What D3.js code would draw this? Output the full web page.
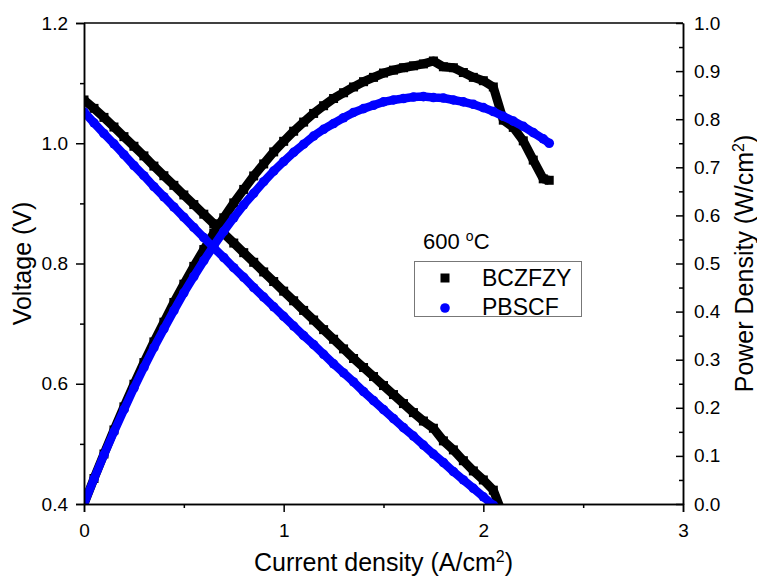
<!DOCTYPE html>
<html>
<head>
<meta charset="utf-8">
<script src="https://cdn.jsdelivr.net/npm/d3@7"></script>
<style>
  html, body { margin: 0; padding: 0; background: #fff; }
  svg { display: block; font-family: "Liberation Sans", Arial, sans-serif; }
</style>
</head>
<body>
<svg id="chart" width="757" height="582"></svg>
<script>
// Current density grid (A/cm2) shared by all four series
const current = [0, 0.05, 0.10, 0.15, 0.20, 0.25, 0.30, 0.35, 0.40, 0.45,
  0.50, 0.55, 0.60, 0.65, 0.70, 0.75, 0.80, 0.85, 0.90, 0.95,
  1.00, 1.05, 1.10, 1.15, 1.20, 1.25, 1.30, 1.35, 1.40, 1.45,
  1.50, 1.55, 1.60, 1.65, 1.70, 1.75, 1.80, 1.85, 1.90, 1.95,
  2.00, 2.05, 2.10, 2.15, 2.20, 2.25, 2.30, 2.33];

// Cell voltage (V)
const voltageBCZFZY = [1.072, 1.058, 1.043, 1.027, 1.011, 0.995, 0.979, 0.962, 0.946, 0.930,
  0.914, 0.898, 0.882, 0.866, 0.850, 0.834, 0.818, 0.802, 0.786, 0.770,
  0.754, 0.738, 0.722, 0.706, 0.690, 0.674, 0.658, 0.642, 0.627, 0.612,
  0.597, 0.582, 0.567, 0.552, 0.538, 0.526, 0.505, 0.490, 0.472, 0.455,
  0.440, 0.423, 0.380, 0.364, 0.343, 0.318, 0.294, 0.289];
const voltagePBSCF = [1.052, 1.034, 1.016, 0.999, 0.981, 0.963, 0.946, 0.928, 0.911, 0.894,
  0.877, 0.860, 0.843, 0.826, 0.810, 0.793, 0.777, 0.760, 0.744, 0.728,
  0.712, 0.696, 0.680, 0.665, 0.649, 0.633, 0.618, 0.603, 0.587, 0.572,
  0.557, 0.542, 0.527, 0.513, 0.498, 0.483, 0.469, 0.454, 0.440, 0.426,
  0.412, 0.398, 0.384, 0.370, 0.357, 0.343, 0.330, 0.322];

// Power density (W/cm2)
const powerBCZFZY = [0, 0.053, 0.104, 0.154, 0.202, 0.249, 0.294, 0.337, 0.378, 0.419,
  0.457, 0.494, 0.529, 0.563, 0.595, 0.626, 0.654, 0.682, 0.707, 0.732,
  0.754, 0.775, 0.794, 0.812, 0.828, 0.843, 0.855, 0.867, 0.878, 0.887,
  0.896, 0.902, 0.907, 0.911, 0.915, 0.921, 0.909, 0.907, 0.897, 0.887,
  0.880, 0.867, 0.798, 0.783, 0.755, 0.715, 0.676, 0.673];
const powerPBSCF = [0, 0.052, 0.102, 0.150, 0.196, 0.241, 0.284, 0.325, 0.364, 0.402,
  0.439, 0.473, 0.506, 0.537, 0.567, 0.595, 0.622, 0.646, 0.670, 0.692,
  0.712, 0.731, 0.748, 0.765, 0.779, 0.791, 0.803, 0.814, 0.822, 0.829,
  0.836, 0.840, 0.843, 0.846, 0.847, 0.845, 0.844, 0.840, 0.836, 0.831,
  0.824, 0.816, 0.806, 0.796, 0.785, 0.772, 0.759, 0.750];

// Axis ticks
const xTicks = [0, 1, 2, 3];
const xMinorTicks = [0.5, 1.5, 2.5];
const vTicks = [0.4, 0.6, 0.8, 1.0, 1.2];
const vMinorTicks = [0.5, 0.7, 0.9, 1.1];
const pTicks = [0, 0.1, 0.2, 0.3, 0.4, 0.5, 0.6, 0.7, 0.8, 0.9, 1.0];
const pMinorTicks = [0.05, 0.15, 0.25, 0.35, 0.45, 0.55, 0.65, 0.75, 0.85, 0.95];

const seriesNames = ["BCZFZY", "PBSCF"];
const seriesColors = ["#000000", "#0000ff"];
const temperatureLabel = "600 ";

const svg = d3.select("#chart");
const plotLeft = 84, plotRight = 683, plotTop = 23, plotBottom = 504;

const x = d3.scaleLinear().domain([0, 3]).range([plotLeft, plotRight]);
const yV = d3.scaleLinear().domain([0.4, 1.2]).range([plotBottom, plotTop]);
const yP = d3.scaleLinear().domain([0, 1.0]).range([plotBottom, plotTop]);

svg.append("defs").append("clipPath").attr("id", "plot-clip")
  .append("rect").attr("x", plotLeft).attr("y", plotTop)
  .attr("width", plotRight - plotLeft).attr("height", plotBottom - plotTop);

const plot = svg.append("g").attr("clip-path", "url(#plot-clip)");

function drawSeries(values, yScale, color, shape) {
  const pts = current.map((c, i) => [c, values[i]]);
  const line = d3.line().x(d => x(d[0])).y(d => yScale(d[1]));
  plot.append("path").datum(pts)
    .attr("d", line).attr("fill", "none").attr("stroke", color)
    .attr("stroke-width", shape === "square" ? 9 : 8.5)
    .attr("stroke-linejoin", "round");
  if (shape === "square") {
    plot.append("g").selectAll("rect").data(pts).join("rect")
      .attr("x", d => x(d[0]) - 4.5).attr("y", d => yScale(d[1]) - 4.5)
      .attr("width", 9).attr("height", 9).attr("fill", color);
  } else {
    plot.append("g").selectAll("circle").data(pts).join("circle")
      .attr("cx", d => x(d[0])).attr("cy", d => yScale(d[1]))
      .attr("r", 4.8).attr("fill", color);
  }
}

drawSeries(voltageBCZFZY, yV, seriesColors[0], "square");
drawSeries(powerBCZFZY, yP, seriesColors[0], "square");
drawSeries(voltagePBSCF, yV, seriesColors[1], "circle");
drawSeries(powerPBSCF, yP, seriesColors[1], "circle");

// Frame
svg.append("line").attr("x1", plotLeft).attr("x2", plotRight).attr("y1", plotTop).attr("y2", plotTop)
  .attr("stroke", "#000").attr("stroke-width", 1.5);

const fmt = d3.format(".1f");
const tickFont = 19;

function styleAxis(g) {
  g.selectAll(".domain").attr("stroke", "#000").attr("stroke-width", 1.5);
  g.selectAll(".tick line").attr("stroke", "#000").attr("stroke-width", 1.5);
  g.selectAll(".tick text").attr("font-size", tickFont)
    .attr("font-family", "'Liberation Sans', Arial, sans-serif").attr("fill", "#000");
}

// Bottom axis
svg.append("g").attr("transform", `translate(0,${plotBottom})`)
  .call(d3.axisBottom(x).tickValues(xTicks).tickFormat(d3.format("d")).tickSize(8).tickPadding(12))
  .call(styleAxis);
svg.append("g").attr("transform", `translate(0,${plotBottom})`)
  .call(d3.axisBottom(x).tickValues(xMinorTicks).tickFormat("").tickSize(4).tickSizeOuter(0))
  .call(styleAxis);

// Left axis
svg.append("g").attr("transform", `translate(${plotLeft},0)`)
  .call(d3.axisLeft(yV).tickValues(vTicks).tickFormat(fmt).tickSize(8).tickPadding(8))
  .call(styleAxis);
svg.append("g").attr("transform", `translate(${plotLeft},0)`)
  .call(d3.axisLeft(yV).tickValues(vMinorTicks).tickFormat("").tickSize(4).tickSizeOuter(0))
  .call(styleAxis);

// Right axis (ticks point inward)
svg.append("g").attr("transform", `translate(${plotRight},0)`)
  .call(d3.axisRight(yP).tickValues(pTicks).tickFormat(fmt).tickSize(-7).tickSizeOuter(0).tickPadding(11))
  .call(styleAxis);
svg.append("g").attr("transform", `translate(${plotRight},0)`)
  .call(d3.axisRight(yP).tickValues(pMinorTicks).tickFormat("").tickSize(-4).tickSizeOuter(0))
  .call(styleAxis);

// Axis titles
const titleFont = 25;
const xTitle = svg.append("text").attr("x", (plotLeft + plotRight) / 2).attr("y", 571)
  .attr("text-anchor", "middle").attr("font-size", titleFont);
xTitle.append("tspan").text("Current density (A/cm");
xTitle.append("tspan").attr("dy", -9).attr("font-size", 16).text("2");
xTitle.append("tspan").attr("dy", 9).text(")");

svg.append("text").attr("transform", `translate(31,${(plotTop + plotBottom) / 2}) rotate(-90)`)
  .attr("text-anchor", "middle").attr("font-size", titleFont).text("Voltage (V)");

const pTitle = svg.append("text").attr("transform", `translate(753,${(plotTop + plotBottom) / 2}) rotate(-90)`)
  .attr("text-anchor", "middle").attr("font-size", titleFont);
pTitle.append("tspan").text("Power Density (W/cm");
pTitle.append("tspan").attr("dy", -9).attr("font-size", 16).text("2");
pTitle.append("tspan").attr("dy", 9).text(")");

// Legend
const tempLabel = svg.append("text").attr("x", 423).attr("y", 249).attr("font-size", 22);
tempLabel.append("tspan").text(temperatureLabel);
tempLabel.append("tspan").attr("dy", -8).attr("font-size", 14).text("o");
tempLabel.append("tspan").attr("dy", 8).text("C");

svg.append("rect").attr("x", 414.5).attr("y", 261.5).attr("width", 167).attr("height", 55)
  .attr("fill", "#fff").attr("stroke", "#777").attr("stroke-width", 1);

svg.append("rect").attr("x", 445 - 4.5).attr("y", 278 - 4.5).attr("width", 9).attr("height", 9)
  .attr("fill", seriesColors[0]);
svg.append("circle").attr("cx", 445).attr("cy", 308).attr("r", 4.8).attr("fill", seriesColors[1]);
svg.append("text").attr("x", 482).attr("y", 286).attr("font-size", 23).text(seriesNames[0]);
svg.append("text").attr("x", 482).attr("y", 315).attr("font-size", 23).text(seriesNames[1]);
</script>
</body>
</html>
